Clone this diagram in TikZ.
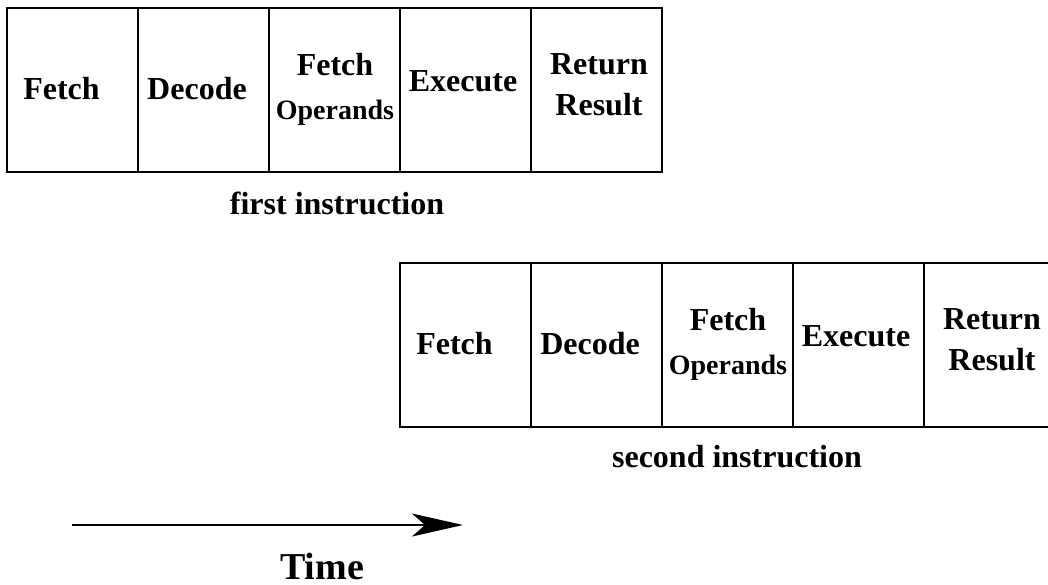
\documentclass[tikz,border=0pt]{standalone}
\usepackage{fontspec}
\setmainfont{Liberation Serif}
\usetikzlibrary{arrows.meta}
\tikzset{
  stage/.style={draw, line width=1.6pt, minimum width=131pt, minimum height=164pt,
    inner sep=0pt, outer sep=0pt, anchor=north west},
  lab/.style={font=\bfseries\fontsize{32}{41}\selectfont, align=center, inner sep=0pt},
  lbase/.style={lab, anchor=base},
  caption/.style={font=\bfseries\fontsize{32}{38}\selectfont, inner sep=0pt, anchor=base},
  timearrow/.style={line width=1.4pt, -{Stealth[length=51pt, width=23pt, inset=13pt]}},
}

\begin{document}
\begin{tikzpicture}[x=1pt, y=-1pt]
  \useasboundingbox (0,0) rectangle (1048,584);

  % first instruction
  \node[stage] (fetchA) at (7,8) {};
  \node[stage] (decodeA) at (138,8) {};
  \node[stage] (operandsA) at (269,8) {};
  \node[stage] (executeA) at (400,8) {};
  \node[stage] (resultA) at (531,8) {};

  \node[lbase] (fetchAtxt) at (61.5,99) {Fetch};
  \node[lbase] (decodeAtxt) at (197,99) {Decode};
  \node[lab] (operandsAtxt) at (335,89) {Fetch\\[3pt]{\fontsize{28}{34}\selectfont Operands}};
  \node[lbase] (executeAtxt) at (463,91) {Execute};
  \node[lab] (resultAtxt) at (599,84.5) {Return\\Result};
  \node[caption] (firstcap) at (337,214) {first instruction};

  % second instruction, started one stage later
  \begin{scope}[shift={(393,255)}]
    \node[stage] (fetchB) at (7,8) {};
    \node[stage] (decodeB) at (138,8) {};
    \node[stage] (operandsB) at (269,8) {};
    \node[stage] (executeB) at (400,8) {};
    \node[stage] (resultB) at (531,8) {};

    \node[lbase] (fetchBtxt) at (61.5,99) {Fetch};
    \node[lbase] (decodeBtxt) at (197,99) {Decode};
    \node[lab] (operandsBtxt) at (335,89) {Fetch\\[3pt]{\fontsize{28}{34}\selectfont Operands}};
    \node[lbase] (executeBtxt) at (463,91) {Execute};
    \node[lab] (resultBtxt) at (599,84.5) {Return\\Result};
  \end{scope}
  \node[caption] (secondcap) at (737,467) {second instruction};

  % time axis
  \coordinate (t0) at (72,525);
  \coordinate (t1) at (463,525);
  \draw[timearrow] (t0) -- (t1);
  \node[caption, font=\bfseries\fontsize{38}{44}\selectfont] (time) at (322,579) {Time};
\end{tikzpicture}
\end{document}
